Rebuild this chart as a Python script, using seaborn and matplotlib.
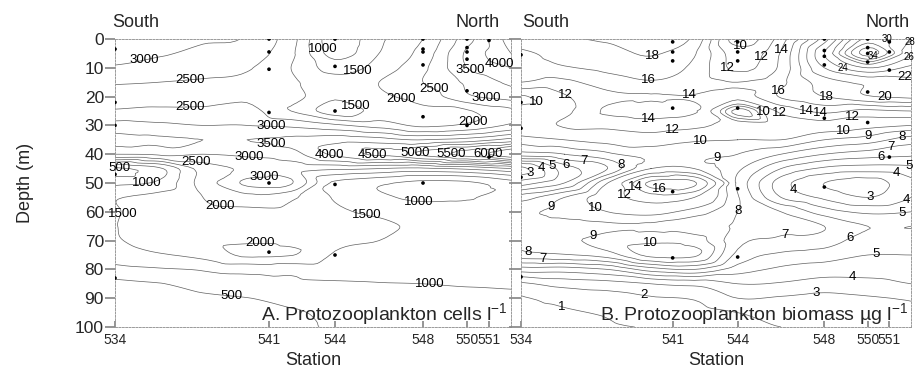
import matplotlib
matplotlib.use("Agg")
import numpy as np
import pandas as pd
import seaborn as sns
import matplotlib.pyplot as plt
import matplotlib.tri as mtri

# ---------------- data ----------------
grid_stations = [534, 536, 538, 540, 542, 544, 546, 548, 550, 552]
grid_depths = [0, 5, 10, 15, 20, 25, 30, 35, 40, 45, 50, 55, 60, 65, 70, 75, 80, 85, 90, 95, 100]

# A. Protozooplankton cells l-1 (rows = depth, cols = station)
cells = [
    [3300, 3150, 3050, 2950, 2200,  700, 1400, 2000, 3300, 4800],
    [3150, 3050, 2900, 2800, 2100,  800, 1500, 2200, 3600, 4500],
    [2950, 2800, 2700, 2550, 2000, 1300, 1700, 2400, 3500, 4000],
    [2550, 2500, 2450, 2400, 2100, 1700, 2000, 2500, 3100, 3600],
    [2350, 2350, 2350, 2400, 2200, 1600, 1900, 2200, 2900, 3200],
    [2550, 2600, 2600, 2700, 2000, 1200, 1700, 1900, 1950, 2400],
    [3200, 3100, 3000, 3000, 2900, 2600, 2300, 1900, 2100, 2600],
    [3600, 3550, 3500, 3500, 3600, 3800, 3700, 3500, 3700, 4200],
    [3000, 3100, 3000, 3100, 3300, 4100, 4600, 5100, 5700, 6400],
    [ 400,  900, 2200, 2600, 2700, 2600, 2500, 2400, 2600, 3000],
    [ 900, 1100, 2200, 3100, 3050, 1400, 1100,  850,  900, 1300],
    [1450, 1700, 2000, 2300, 2100, 1450, 1100,  900,  950, 1300],
    [1450, 1800, 1900, 1900, 1900, 1600, 1400, 1300, 1300, 1300],
    [1480, 1800, 1800, 1800, 1800, 1700, 1600, 1400, 1350, 1350],
    [1450, 1700, 1850, 1950, 1900, 1600, 1500, 1350, 1300, 1300],
    [1250, 1450, 1650, 2080, 2020, 1450, 1400, 1300, 1250, 1250],
    [ 850,  950, 1050, 1150, 1150, 1200, 1200, 1200, 1180, 1180],
    [ 380,  480,  700,  830,  900,  950,  980, 1000, 1030, 1050],
    [ 320,  400,  420,  490,  650,  750,  800,  850,  900,  920],
    [ 280,  350,  380,  420,  450,  600,  700,  750,  800,  820],
    [ 250,  300,  350,  380,  420,  550,  650,  700,  750,  780],
]

# B. Protozooplankton biomass ug l-1
biomass = [
    [17.5, 17.8, 18.3, 18.8, 17.5,  9.0, 13.0, 21.0, 30.5, 28.2],
    [15.5, 16.8, 17.2, 18.2, 16.2, 11.0, 14.2, 24.0, 35.0, 26.5],
    [15.0, 15.8, 16.5, 17.0, 15.5, 11.5, 14.5, 22.0, 26.0, 23.5],
    [14.0, 13.5, 15.0, 15.8, 15.0, 14.0, 15.5, 19.0, 20.5, 21.5],
    [ 9.8, 11.8, 13.5, 13.8, 13.9, 13.0, 16.2, 18.0, 19.8, 20.5],
    [10.5, 11.5, 14.3, 14.8, 14.2,  7.5, 12.5, 14.5, 13.5, 14.0],
    [11.0, 12.2, 12.5, 13.0, 12.5, 11.0, 11.0, 11.0, 10.5, 10.0],
    [ 9.5, 10.0, 10.5, 11.0, 10.2, 10.0, 10.0,  9.0,  8.5,  7.5],
    [ 7.5,  8.0,  8.8,  9.2,  9.2,  9.0,  8.0,  7.0,  6.5,  6.2],
    [ 2.7,  5.5,  7.0, 10.0, 10.0,  8.2,  6.0,  4.8,  4.5,  4.7],
    [ 4.5,  6.0, 10.0, 16.5, 16.3,  7.8,  4.5,  3.0,  2.5,  3.8],
    [ 7.5,  9.0, 11.0, 13.0, 12.0,  8.1,  5.0,  3.8,  3.0,  4.0],
    [ 8.8,  9.3, 10.0, 10.5,  9.5,  8.0,  7.0,  5.5,  4.8,  5.0],
    [ 8.5,  8.6,  8.8,  8.8,  8.5,  7.8,  7.2,  7.0,  6.0,  6.0],
    [ 8.2,  8.8,  9.4,  9.8,  9.5,  7.3,  6.8,  6.5,  5.5,  5.5],
    [ 7.6,  7.9,  8.5, 10.3, 10.2,  6.7,  5.8,  5.5,  5.0,  5.0],
    [ 4.5,  4.5,  5.0,  6.5,  7.0,  5.5,  4.8,  4.5,  4.4,  4.5],
    [ 1.8,  2.4,  2.6,  3.0,  3.3,  4.0,  3.9,  3.6,  3.7,  4.0],
    [ 0.9,  1.3,  1.6,  1.9,  2.1,  3.0,  2.9,  2.7,  2.9,  3.1],
    [ 0.7,  0.9,  1.1,  1.4,  1.6,  2.0,  2.5,  2.4,  2.6,  2.8],
    [ 0.5,  0.7,  0.9,  1.05, 1.1,  1.5,  2.0,  2.2,  2.4,  2.6],
]

levels_A = [500, 1000, 1500, 2000, 2500, 3000, 3500, 4000, 4500, 5000, 5500, 6000]
levels_B = [1, 2, 3, 4, 5, 6, 7, 8, 9, 10, 12, 14, 16, 18, 20, 22, 24, 26, 28, 30, 32, 34]

station_ticks = [534, 541, 544, 548, 550, 551]
depth_ticks = [0, 10, 20, 30, 40, 50, 60, 70, 80, 90, 100]

# sample points (station, depth)
samples_A_station = [534, 534, 534, 534, 534, 541, 541, 541, 541, 541, 541,
                     544, 544, 544, 544, 544, 548, 548, 548, 548, 548, 548,
                     550, 550, 550, 550, 550, 550, 551, 551]
samples_A_depth = [3.5, 22, 30, 47, 83, 0, 4.5, 10.5, 25.5, 50, 74,
                   0, 9.5, 25, 50.5, 75, 0, 3.5, 4.5, 9, 27, 50,
                   0, 3, 4.5, 7, 18, 30, 0.5, 41]
samples_B_station = [534, 534, 534, 534, 534, 541, 541, 541, 541, 541, 541,
                     544, 544, 544, 544, 544, 544, 548, 548, 548, 548, 548, 548,
                     550, 550, 550, 550, 550, 550, 551, 551, 551, 551]
samples_B_depth = [5.5, 22, 31, 48, 82.6, 1, 4.5, 7.6, 24, 53, 76,
                   1, 4.5, 7.6, 24, 52, 75.7, 0, 4, 6, 9, 27.5, 51.4,
                   0, 3, 5, 8, 18.4, 29, 1, 4.5, 10.8, 41]

# contour-label anchors (layout): (level, station, depth, horizontal alignment)
labels_A = [(3000, 535.3, 6.6, "center"), (2500, 537.4, 15, "center"),
            (2500, 537.4, 22, "center"), (3000, 541.1, 29, "center"),
            (3500, 541.1, 36, "center"), (2500, 537.7, 42.6, "center"),
            (3000, 540.1, 41, "center"), (500, 534.2, 46, "center"),
            (1000, 535.4, 47.5, "center"), (3000, 540.8, 49, "center"),
            (2000, 538.8, 56, "center"), (1500, 534.3, 61, "left"),
            (2000, 540.6, 73, "center"), (1000, 547.8, 55, "center"),
            (1500, 545.4, 63, "center"), (1000, 548.3, 85, "center"),
            (500, 539.3, 89.6, "center"), (1000, 543.9, 3, "center"),
            (1500, 545.1, 12.5, "center"), (1500, 545.0, 22, "center"),
            (2000, 547.0, 21, "center"), (2500, 548.7, 14, "center"),
            (4000, 551.6, 5.0, "center"), (3500, 550.0, 12.5, "center"),
            (3000, 550.9, 19.5, "center"), (2000, 550.2, 27, "center"),
            (4000, 543.8, 39, "center"), (4500, 545.7, 40, "center"),
            (5000, 547.6, 39.5, "center"), (5500, 549.3, 40, "center"),
            (6000, 550.9, 40, "center")]
labels_B = [(18, 540.0, 2.8), (16, 539.9, 12.5), (12, 536.1, 19), (10, 534.7, 21.8),
            (14, 541.8, 20), (14, 539.9, 27.5), (12, 541.0, 31.6), (10, 542.3, 35.7),
            (9, 543.0, 38.5), (8, 539.0, 41), (7, 536.9, 42), (6, 536.1, 43),
            (5, 535.4, 44.4), (4, 534.9, 45.5), (3, 534.4, 46.5), (16, 540.4, 50.7),
            (14, 539.3, 51.0), (12, 537.8, 56.5), (10, 537.4, 59.5), (9, 535.5, 59.4),
            (8, 544.2, 60.4), (9, 537.4, 69.8), (10, 540.0, 73), (8, 534.4, 70),
            (7, 535.0, 78), (7, 546.2, 68.8), (6, 549.2, 69), (5, 550.4, 73.3),
            (4, 549.3, 82), (3, 547.6, 86.5), (2, 539.7, 88), (1, 535.9, 92.5),
            (10, 544.1, 3), (12, 544.7, 5), (14, 546.1, 4), (12, 543.6, 9.7),
            (16, 545.8, 17.7), (18, 548.1, 19), (20, 550.8, 19.4), (22, 551.7, 13.5),
            (24, 549.0, 6.6), (34, 550.3, 8), (30, 550.4, 0.6), (28, 551.9, 0.5),
            (26, 551.7, 3), (14, 547.2, 23.5), (10, 545.1, 25.7), (12, 545.9, 26.4),
            (14, 547.8, 26.5), (12, 549.3, 27.4), (10, 548.9, 32), (9, 550.0, 33.5),
            (8, 551.6, 34.4), (7, 551.1, 37.5), (6, 550.6, 41.3), (5, 551.9, 44),
            (4, 551.3, 47), (4, 546.7, 51.4), (3, 550.1, 53.1), (4, 551.8, 56),
            (5, 551.6, 60)]
labels_B = [(lv, s, d, "center") for lv, s, d in labels_B]

# ---------------- style ----------------
sns.set_theme(style="white")
plt.rcParams["font.family"] = ["Liberation Sans", "DejaVu Sans"]
plt.rcParams["mathtext.fontset"] = "custom"
plt.rcParams["mathtext.rm"] = "Liberation Sans"
plt.rcParams["mathtext.it"] = "Liberation Sans"
plt.rcParams["mathtext.default"] = "rm"

fig = plt.figure(figsize=(9.17, 3.79), dpi=100)
axA = fig.add_axes([115 / 917, 1 - 327 / 379, 396 / 917, 288 / 379])
axB = fig.add_axes([521 / 917, 1 - 327 / 379, 390 / 917, 288 / 379])

X, Y = np.meshgrid(grid_stations, grid_depths)
line_col = "#606060"


def draw_panel(ax, Z, levels, labels, st, dp, fmt, title):
    z = np.array(Z, dtype=float).ravel()
    # triangulate in scaled coordinates, then map back to station/depth
    xs = (X.ravel() - 534.0) / 18.0
    ys = Y.ravel() / 100.0
    tri = mtri.Triangulation(xs, ys)
    refiner = mtri.UniformTriRefiner(tri)
    interp = mtri.CubicTriInterpolator(tri, z, kind="geom")
    tri_f, z_f = refiner.refine_field(z, triinterpolator=interp, subdiv=3)
    tri_plot = mtri.Triangulation(tri_f.x * 18.0 + 534.0, tri_f.y * 100.0,
                                  triangles=tri_f.triangles)
    sets = {}
    for lv in levels:
        sets[lv] = ax.tricontour(tri_plot, z_f, levels=[lv], colors=line_col,
                                 linewidths=0.5)
    for lv, sx, dy, ha in labels:
        try:
            texts = sets[lv].clabel(levels=[lv], inline=False, fmt=fmt,
                                    fontsize=9.5, manual=[(sx, dy)],
                                    colors="black")
        except Exception:
            continue
        for t in texts:
            t.set_rotation(0)
            t.set_clip_on(False)
            t.set_ha(ha)
            if ha == "left":
                px, py = t.get_position()
                t.set_position((px + 0.12, py))
            if fmt == "%g" and lv >= 24:
                t.set_fontsize(7)
    df = pd.DataFrame({"station": st, "depth": dp})
    sns.scatterplot(data=df, x="station", y="depth", ax=ax, color="black",
                    s=7, edgecolor="none", legend=False, zorder=5)
    ax.set_xlim(534, 552)
    ax.set_ylim(100, 0)
    ax.set_xticks(station_ticks)
    ax.set_xticklabels([str(s) for s in station_ticks], fontsize=10)
    ax.tick_params(axis="x", direction="in", length=4, pad=4, color="#888888",
                   bottom=True)
    ax.set_xlabel("Station", fontsize=13, labelpad=4)
    for sp in ax.spines.values():
        sp.set_color("#9a9a9a")
        sp.set_linewidth(0.7)
        sp.set_linestyle((0, (2, 1.5)))
    ax.text(0.992, 0.045, title, transform=ax.transAxes, ha="right",
            va="center", fontsize=14)


draw_panel(axA, cells, levels_A, labels_A, samples_A_station, samples_A_depth,
           "%d", "A. Protozooplankton cells l$^{-1}$")
draw_panel(axB, biomass, levels_B, labels_B, samples_B_station, samples_B_depth,
           "%g", "B. Protozooplankton biomass µg l$^{-1}$")

axA.set_yticks(depth_ticks)
axA.set_yticklabels([str(d) for d in depth_ticks], fontsize=12.5)
axA.tick_params(axis="y", direction="out", length=7, pad=1, color="#888888",
                left=True)
axA.set_ylabel("")
axB.set_yticks(depth_ticks)
axB.tick_params(axis="y", direction="out", length=9, color="#888888",
                left=True, labelleft=False)
axB.set_ylabel("")

for ax, xs, xn in [(axA, -0.008, 0.972), (axB, 0.003, 0.997)]:
    ax.text(xs, 1.059, "South", transform=ax.transAxes, ha="left", va="center",
            fontsize=13)
    ax.text(xn, 1.059, "North", transform=ax.transAxes, ha="right", va="center",
            fontsize=13)

fig.text(25 / 917, 1 - 183 / 379, "Depth (m)", rotation=90, ha="center",
         va="center", fontsize=13)

fig.savefig("out.png", dpi=100)
